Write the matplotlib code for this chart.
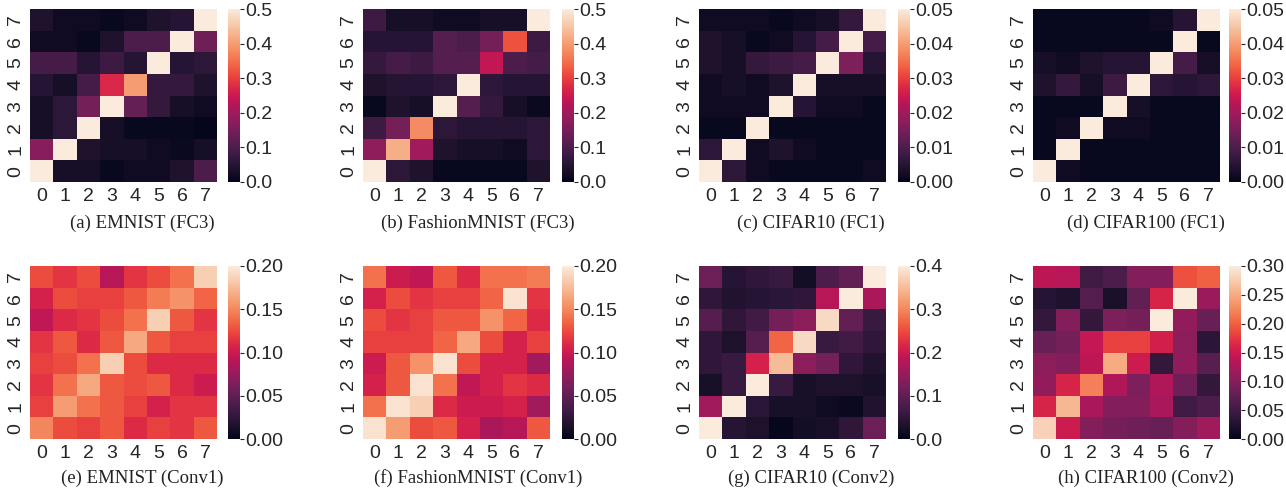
import numpy as np
import matplotlib
matplotlib.use("Agg")
import matplotlib.pyplot as plt
import seaborn as sns

# rows listed from class 0 (bottom) to class 7 (top)
emnist_fc3 = [
    [0.50, 0.03, 0.03, 0.01, 0.02, 0.02, 0.04, 0.10],
    [0.17, 0.50, 0.04, 0.03, 0.03, 0.02, 0.015, 0.03],
    [0.03, 0.06, 0.50, 0.03, 0.01, 0.01, 0.01, 0.005],
    [0.03, 0.06, 0.15, 0.50, 0.13, 0.07, 0.03, 0.02],
    [0.05, 0.03, 0.09, 0.27, 0.40, 0.07, 0.07, 0.04],
    [0.09, 0.09, 0.05, 0.08, 0.05, 0.50, 0.05, 0.06],
    [0.02, 0.02, 0.01, 0.04, 0.10, 0.10, 0.50, 0.14],
    [0.04, 0.02, 0.02, 0.01, 0.02, 0.04, 0.05, 0.50],
]
fashion_fc3 = [
    [0.50, 0.06, 0.04, 0.01, 0.01, 0.01, 0.01, 0.04],
    [0.18, 0.42, 0.20, 0.04, 0.03, 0.03, 0.02, 0.06],
    [0.08, 0.15, 0.38, 0.06, 0.05, 0.05, 0.05, 0.06],
    [0.01, 0.04, 0.03, 0.50, 0.11, 0.07, 0.03, 0.015],
    [0.04, 0.05, 0.05, 0.06, 0.50, 0.06, 0.05, 0.05],
    [0.07, 0.09, 0.08, 0.11, 0.11, 0.24, 0.10, 0.09],
    [0.05, 0.05, 0.05, 0.11, 0.10, 0.15, 0.32, 0.08],
    [0.08, 0.03, 0.03, 0.02, 0.02, 0.03, 0.03, 0.50],
]
cifar10_fc1 = [
    [0.050, 0.006, 0.002, 0.001, 0.001, 0.001, 0.001, 0.002],
    [0.006, 0.050, 0.002, 0.004, 0.002, 0.001, 0.001, 0.001],
    [0.001, 0.001, 0.050, 0.001, 0.001, 0.001, 0.001, 0.001],
    [0.002, 0.002, 0.002, 0.050, 0.005, 0.002, 0.002, 0.001],
    [0.002, 0.003, 0.002, 0.004, 0.050, 0.003, 0.003, 0.003],
    [0.004, 0.003, 0.007, 0.008, 0.009, 0.050, 0.016, 0.005],
    [0.004, 0.003, 0.001, 0.002, 0.005, 0.009, 0.050, 0.009],
    [0.002, 0.002, 0.002, 0.001, 0.002, 0.003, 0.007, 0.050],
]
cifar100_fc1 = [
    [0.050, 0.002, 0.001, 0.001, 0.001, 0.001, 0.001, 0.001],
    [0.001, 0.050, 0.001, 0.001, 0.001, 0.001, 0.001, 0.001],
    [0.001, 0.002, 0.050, 0.002, 0.002, 0.001, 0.001, 0.001],
    [0.001, 0.001, 0.001, 0.050, 0.003, 0.001, 0.001, 0.001],
    [0.004, 0.007, 0.003, 0.008, 0.050, 0.006, 0.005, 0.006],
    [0.003, 0.002, 0.004, 0.005, 0.005, 0.050, 0.009, 0.003],
    [0.001, 0.001, 0.001, 0.001, 0.001, 0.001, 0.050, 0.001],
    [0.001, 0.001, 0.001, 0.001, 0.001, 0.002, 0.005, 0.050],
]
emnist_conv1 = [
    [0.150, 0.125, 0.120, 0.130, 0.110, 0.120, 0.115, 0.130],
    [0.120, 0.160, 0.140, 0.130, 0.120, 0.105, 0.115, 0.115],
    [0.115, 0.140, 0.165, 0.130, 0.125, 0.130, 0.110, 0.100],
    [0.120, 0.125, 0.140, 0.185, 0.125, 0.110, 0.110, 0.110],
    [0.115, 0.130, 0.110, 0.130, 0.165, 0.130, 0.120, 0.120],
    [0.095, 0.110, 0.115, 0.125, 0.140, 0.185, 0.130, 0.115],
    [0.105, 0.125, 0.120, 0.120, 0.130, 0.145, 0.155, 0.135],
    [0.125, 0.115, 0.125, 0.090, 0.115, 0.125, 0.140, 0.185],
]
fashion_conv1 = [
    [0.195, 0.160, 0.125, 0.130, 0.105, 0.085, 0.090, 0.130],
    [0.140, 0.195, 0.185, 0.110, 0.100, 0.100, 0.105, 0.080],
    [0.105, 0.130, 0.195, 0.140, 0.095, 0.105, 0.115, 0.110],
    [0.100, 0.130, 0.155, 0.195, 0.125, 0.105, 0.105, 0.080],
    [0.120, 0.120, 0.120, 0.135, 0.165, 0.125, 0.105, 0.120],
    [0.125, 0.115, 0.120, 0.130, 0.130, 0.155, 0.135, 0.110],
    [0.105, 0.125, 0.115, 0.120, 0.120, 0.135, 0.195, 0.115],
    [0.140, 0.100, 0.095, 0.130, 0.110, 0.140, 0.140, 0.145],
]
cifar10_conv2 = [
    [0.400, 0.040, 0.030, 0.005, 0.020, 0.025, 0.050, 0.110],
    [0.160, 0.400, 0.045, 0.025, 0.025, 0.015, 0.010, 0.035],
    [0.025, 0.060, 0.400, 0.060, 0.025, 0.030, 0.030, 0.025],
    [0.050, 0.060, 0.210, 0.350, 0.140, 0.120, 0.050, 0.035],
    [0.050, 0.030, 0.090, 0.270, 0.380, 0.060, 0.070, 0.050],
    [0.090, 0.050, 0.070, 0.120, 0.140, 0.380, 0.100, 0.060],
    [0.050, 0.035, 0.040, 0.045, 0.050, 0.180, 0.400, 0.170],
    [0.110, 0.040, 0.050, 0.060, 0.020, 0.080, 0.100, 0.400],
]
cifar100_conv2 = [
    [0.280, 0.150, 0.100, 0.090, 0.085, 0.080, 0.100, 0.120],
    [0.160, 0.260, 0.125, 0.100, 0.100, 0.125, 0.050, 0.060],
    [0.110, 0.160, 0.220, 0.130, 0.095, 0.130, 0.085, 0.040],
    [0.105, 0.100, 0.140, 0.250, 0.150, 0.040, 0.110, 0.070],
    [0.080, 0.090, 0.145, 0.180, 0.180, 0.155, 0.105, 0.035],
    [0.040, 0.100, 0.040, 0.095, 0.090, 0.300, 0.110, 0.080],
    [0.030, 0.025, 0.065, 0.020, 0.075, 0.160, 0.300, 0.115],
    [0.140, 0.135, 0.050, 0.060, 0.100, 0.100, 0.190, 0.200],
]

matrices = [emnist_fc3, fashion_fc3, cifar10_fc1, cifar100_fc1,
            emnist_conv1, fashion_conv1, cifar10_conv2, cifar100_conv2]
vmaxes = [0.5, 0.5, 0.05, 0.05, 0.2, 0.2, 0.4, 0.3]
cbar_ticks = [
    [0.0, 0.1, 0.2, 0.3, 0.4, 0.5],
    [0.0, 0.1, 0.2, 0.3, 0.4, 0.5],
    [0.0, 0.01, 0.02, 0.03, 0.04, 0.05],
    [0.0, 0.01, 0.02, 0.03, 0.04, 0.05],
    [0.0, 0.05, 0.10, 0.15, 0.20],
    [0.0, 0.05, 0.10, 0.15, 0.20],
    [0.0, 0.1, 0.2, 0.3, 0.4],
    [0.0, 0.05, 0.10, 0.15, 0.20, 0.25, 0.30],
]
cbar_fmt = ["%.1f", "%.1f", "%.2f", "%.2f", "%.2f", "%.2f", "%.1f", "%.2f"]
captions = ["(a) EMNIST (FC3)", "(b) FashionMNIST (FC3)", "(c) CIFAR10 (FC1)", "(d) CIFAR100 (FC1)",
            "(e) EMNIST (Conv1)", "(f) FashionMNIST (Conv1)", "(g) CIFAR10 (Conv2)", "(h) CIFAR100 (Conv2)"]
labels = [str(i) for i in range(8)]

plt.rcParams['font.family'] = ['Liberation Sans', 'DejaVu Sans']

W, H = 1286, 493
fig = plt.figure(figsize=(W / 100, H / 100), dpi=100)

# pixel layout of each panel: heatmap left, colorbar left, caption centre
heat_left = [30, 363, 699, 1033]
cbar_left = [228, 562, 898, 1229]
cap_x = [142, 478, 811, 1146]
row_top = [9, 266]
cap_y = [223, 478]
hm_w, hm_h, cb_w = 187, 173, 12

for k in range(8):
    r, c = divmod(k, 4)
    ax = fig.add_axes([heat_left[c] / W, (H - row_top[r] - hm_h) / H, hm_w / W, hm_h / H])
    cax = fig.add_axes([cbar_left[c] / W, (H - row_top[r] - hm_h) / H, cb_w / W, hm_h / H])
    sns.heatmap(np.array(matrices[k]), ax=ax, cbar_ax=cax, cmap="rocket",
                vmin=0, vmax=vmaxes[k], xticklabels=labels, yticklabels=labels,
                cbar_kws={"ticks": cbar_ticks[k], "format": cbar_fmt[k]})
    ax.invert_yaxis()
    ax.tick_params(length=0, labelsize=14, colors="#262626", pad=4)
    for t in ax.get_yticklabels():
        t.set_rotation(90)
        t.set_va("center")
    ax.set_aspect("auto")
    cax.tick_params(labelsize=14, length=3, width=0.8, colors="#262626", pad=1)
    fig.text(cap_x[c] / W, 1 - cap_y[r] / H, captions[k], ha="center", va="center",
             fontsize=13.5, family="Liberation Serif", color="#222222")

plt.savefig("out.png", dpi=100)
